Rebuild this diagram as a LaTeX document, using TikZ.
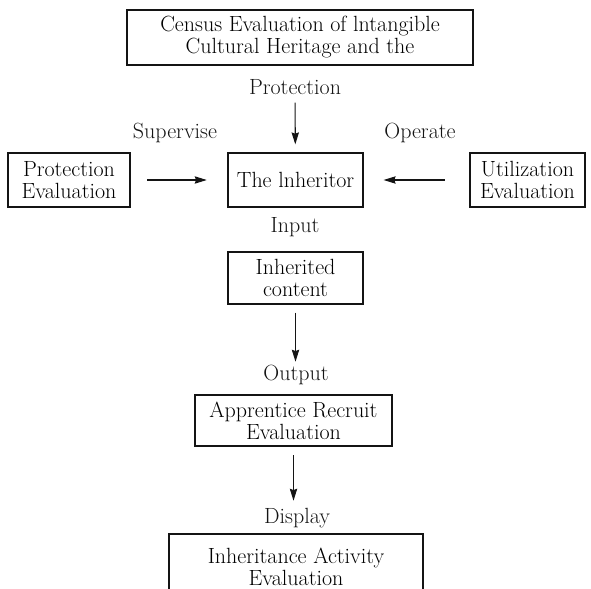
\documentclass[tikz,border=0pt]{standalone}
\usepackage{xcolor}
\usepackage{tikz}
\usetikzlibrary{arrows.meta}
\definecolor{mydark}{RGB}{20,20,20}
\tikzset{
  evalbox/.style={rectangle, draw=mydark, inner sep=0pt, align=center,
    font=\fontsize{16.5}{16.5}\selectfont, line width=0.9pt},
  lbl/.style={inner sep=0pt, anchor=base, text height=11.5pt, text depth=3pt,
    font=\fontsize{16.5}{16.5}\selectfont, text=mydark},
  arrow/.style={-{Stealth[length=9pt, width=5.5pt, inset=1pt]}, line width=0.8pt, color=mydark}
}

\begin{document}
\begin{tikzpicture}[x=0.75pt, y=-0.75pt]
  \useasboundingbox (0,0) rectangle (591,588);
  % boxes
  \node[evalbox, minimum width=259.5pt, minimum height=41.25pt] (census) at (300,37.5)
    {Census Evaluation of lntangible\\Cultural Heritage and the};
  \node[evalbox, minimum width=91.5pt, minimum height=40.5pt] (proteval) at (69,180)
    {Protection\\Evaluation};
  \node[evalbox, minimum width=101.25pt, minimum height=40.5pt] (inheritor) at (295.5,180)
    {The lnheritor};
  \node[evalbox, minimum width=86.25pt, minimum height=40.5pt] (utileval) at (527.5,180)
    {Utilization\\Evaluation};
  \node[evalbox, minimum width=101.25pt, minimum height=39pt] (content) at (295.5,278)
    {Inherited\\content};
  \node[evalbox, minimum width=147.75pt, minimum height=38.25pt] (recruit) at (293.5,420.5)
    {Apprentice Recruit\\Evaluation};
  \node[evalbox, minimum width=190.5pt, minimum height=49.5pt] (activity) at (296,567)
    {Inheritance Activity\\Evaluation};
  % labels
  \node[lbl] (protection) at (295,95) {Protection};
  \node[lbl] (supervise) at (175,138) {Supervise};
  \node[lbl] (operate) at (420,138) {Operate};
  \node[lbl] (input) at (295,232) {Input};
  \node[lbl] (output) at (296,380) {Output};
  \node[lbl] (display) at (297,523) {Display};
  % connectors
  \draw[arrow, shorten <=2.5pt, shorten >=6pt] (protection) -- (inheritor);
  \draw[arrow, shorten <=12.5pt, shorten >=15.5pt] (proteval) -- (inheritor);
  \draw[arrow, shorten <=18.5pt, shorten >=15pt] (utileval) -- (inheritor);
  \draw[arrow, shorten <=6pt, shorten >=2pt] (content) -- (content |- output.north);
  \draw[arrow, shorten <=6.5pt, shorten >=5pt] (recruit) -- (recruit |- display.north);
\end{tikzpicture}
\end{document}
